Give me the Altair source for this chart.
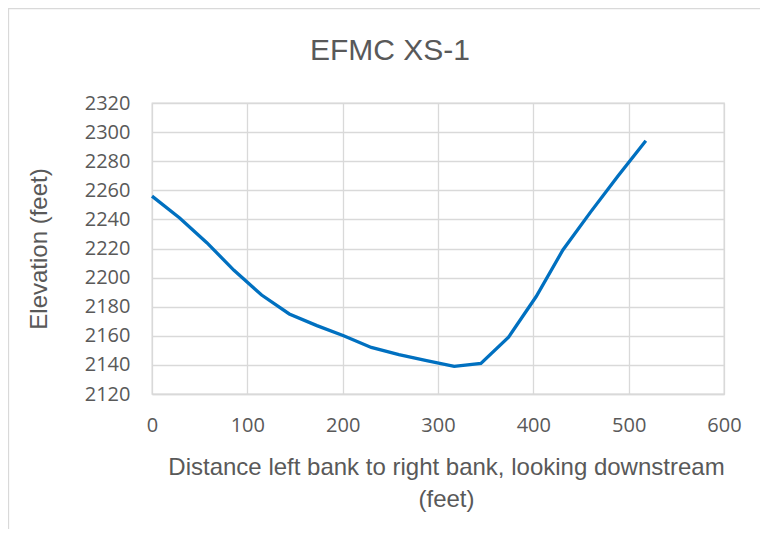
import altair as alt
import pandas as pd

distance = [0, 29, 57.5, 86, 115, 144, 173, 201, 230, 259, 288, 317, 345, 374, 403, 431, 460, 489, 518]
elevation = [2256, 2241, 2224, 2205, 2188, 2175, 2167, 2160, 2152, 2147, 2143, 2139, 2141, 2159, 2187, 2219, 2245, 2270, 2294]
x_ticks = [0, 100, 200, 300, 400, 500, 600]
y_ticks = list(range(2120, 2321, 20))
title_text = ["EFMC XS-1"]

df = pd.DataFrame({"distance": distance, "elevation": elevation})

TFONT = "Liberation Sans, Arial, sans-serif"
LFONT = "Open Sans, sans-serif"
GREY = "#595959"

line = alt.Chart(df).mark_line(color="#0070C0", strokeWidth=3.3).encode(
    x=alt.X("distance:Q",
            scale=alt.Scale(domain=[0, 600], nice=False),
            axis=alt.Axis(values=x_ticks, title=["Distance left bank to right bank, looking downstream", "(feet)"],
                          labelPadding=21, labelFlush=False, titlePadding=20, titleX=294)),
    y=alt.Y("elevation:Q",
            scale=alt.Scale(domain=[2120, 2320], nice=False, zero=False),
            axis=alt.Axis(values=y_ticks, title="Elevation (feet)", format="d",
                          labelPadding=22, titlePadding=33)),
)

# decorative chart-area border (Excel chart frame)
frame = alt.Chart(pd.DataFrame({"k": [0]})).mark_rect(
    fill=None, stroke="#d9d9d9", strokeWidth=1.3
).encode(x=alt.value(-143.5), x2=alt.value(620), y=alt.value(-94.5), y2=alt.value(440))

# chart title as text placed in the chart area above the plot
title = alt.Chart(pd.DataFrame({"t": title_text})).mark_text(
    font=TFONT, fontSize=30, color=GREY, align="center", baseline="middle"
).encode(text="t:N", x=alt.value(238), y=alt.value(-52))

chart = alt.layer(frame, line, title).properties(
    width=572, height=291,
    autosize=alt.AutoSizeParams(type="none"),
    padding={"left": 144, "top": 95, "right": 36, "bottom": 135},
    background="white",
).configure_axis(
    gridColor="#d9d9d9", gridWidth=1.3, domain=False, ticks=False,
    labelFont=LFONT, labelFontSize=20, labelColor=GREY,
    titleFont=TFONT, titleFontSize=24, titleColor=GREY, titleFontWeight="normal",
    titleLineHeight=32,
).configure_axisX(domain=True, domainColor="#d9d9d9", domainWidth=1.3
).configure_view(stroke="#d9d9d9", strokeWidth=1.3)

chart.save("out.html", embed_options={"renderer": "svg", "actions": False})
